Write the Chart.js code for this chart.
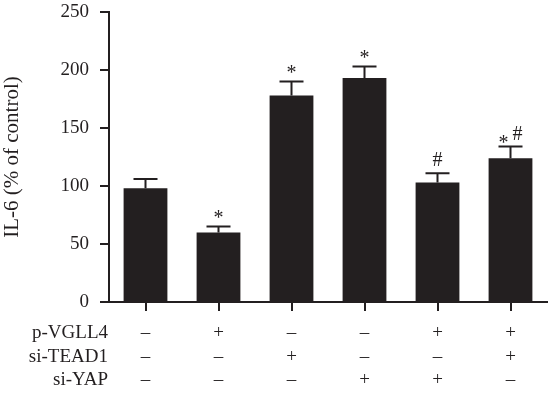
<!DOCTYPE html>
<html>
<head>
<meta charset="utf-8">
<script src="https://cdn.jsdelivr.net/npm/chart.js@4"></script>
<style>
  html, body { margin: 0; padding: 0; background: #fff; }
  #wrap { width: 548px; height: 394px; }
</style>
</head>
<body>
<div id="wrap"><canvas id="bar-chart"></canvas></div>
<script>
var groups = ["G1", "G2", "G3", "G4", "G5", "G6"];
var means = [98, 60, 178, 193, 103, 124];
var errors = [8, 5, 12, 10, 8, 10];
var marks = ["", "*", "*", "*", "#", "*#"];
var yTicks = [0, 50, 100, 150, 200, 250];
var rowNames = ["p-VGLL4", "si-TEAD1", "si-YAP"];
var pVGLL4 = ["–", "+", "–", "–", "+", "+"];
var siTEAD1 = ["–", "–", "+", "–", "–", "+"];
var siYAP = ["–", "–", "–", "+", "+", "–"];
var rows = [pVGLL4, siTEAD1, siYAP];

var ink = '#231f20';
var serif = "'Liberation Serif', 'DejaVu Serif', serif";

var extras = {
  id: 'extras',
  afterDatasetsDraw: function(chart) {
    var ctx = chart.ctx;
    var x = chart.scales.x, y = chart.scales.y;
    ctx.save();
    ctx.strokeStyle = ink;
    ctx.fillStyle = ink;
    ctx.lineWidth = 2;
    for (let i = 0; i < means.length; i++) {
      var cx = x.getPixelForValue(i);
      var top = y.getPixelForValue(means[i]);
      var cap = y.getPixelForValue(means[i] + errors[i]);
      ctx.beginPath();
      ctx.moveTo(cx, top);
      ctx.lineTo(cx, cap);
      ctx.moveTo(cx - 12, cap);
      ctx.lineTo(cx + 12, cap);
      ctx.stroke();

      // significance marks
      ctx.textAlign = 'center';
      ctx.textBaseline = 'alphabetic';
      ctx.font = "20px " + serif;
      var m = marks[i];
      if (m == "*") {
        ctx.fillText("*", cx, cap - 3);
      } else if (m == "#") {
        ctx.fillText("#", cx, cap - 7);
      } else if (m == "*#") {
        ctx.fillText("*", cx - 7, cap + 2);
        ctx.fillText("#", cx + 7, cap - 7);
      }
    }

    // treatment table
    ctx.font = "19px " + serif;
    ctx.textBaseline = 'middle';
    var rowY = [333, 357, 380];
    for (let r = 0; r < rows.length; r++) {
      ctx.textAlign = 'right';
      ctx.fillText(rowNames[r], 108, rowY[r]);
      ctx.textAlign = 'center';
      for (let i = 0; i < rows[r].length; i++) {
        ctx.fillText(rows[r][i], x.getPixelForValue(i), rowY[r]);
      }
    }
    ctx.restore();
  }
};

new Chart(document.getElementById("bar-chart"), {
  type: 'bar',
  data: {
    labels: groups,
    datasets: [{
      data: means,
      backgroundColor: ink,
      borderWidth: 0,
      barPercentage: 0.6,
      categoryPercentage: 1.0
    }]
  },
  options: {
    responsive: true,
    maintainAspectRatio: false,
    animation: false,
    layout: { padding: { top: 12, right: 1, left: 0, bottom: 0 } },
    plugins: {
      legend: { display: false },
      tooltip: { enabled: false }
    },
    scales: {
      x: {
        afterFit: function(s) { s.height = 92; },
        grid: {
          offset: false,
          drawOnChartArea: false,
          drawTicks: true,
          tickLength: 9,
          color: ink,
          lineWidth: 2
        },
        border: { color: ink, width: 2 },
        ticks: { display: false }
      },
      y: {
        min: 0,
        max: 250,
        afterFit: function(s) {
          s.width = 109;
          s.paddingTop = 0;
          s.paddingBottom = 0;
        },
        afterBuildTicks: function(s) {
          s.ticks = yTicks.map(function(v) { return { value: v }; });
        },
        grid: {
          drawOnChartArea: false,
          drawTicks: true,
          tickLength: 9,
          color: ink,
          lineWidth: 2
        },
        border: { color: ink, width: 2 },
        ticks: {
          color: ink,
          padding: 11,
          font: { family: serif, size: 19 }
        },
        title: {
          display: true,
          text: "IL-6 (% of control)",
          color: ink,
          padding: 0,
          font: { family: serif, size: 21 }
        }
      }
    }
  },
  plugins: [extras]
});
</script>
</body>
</html>
